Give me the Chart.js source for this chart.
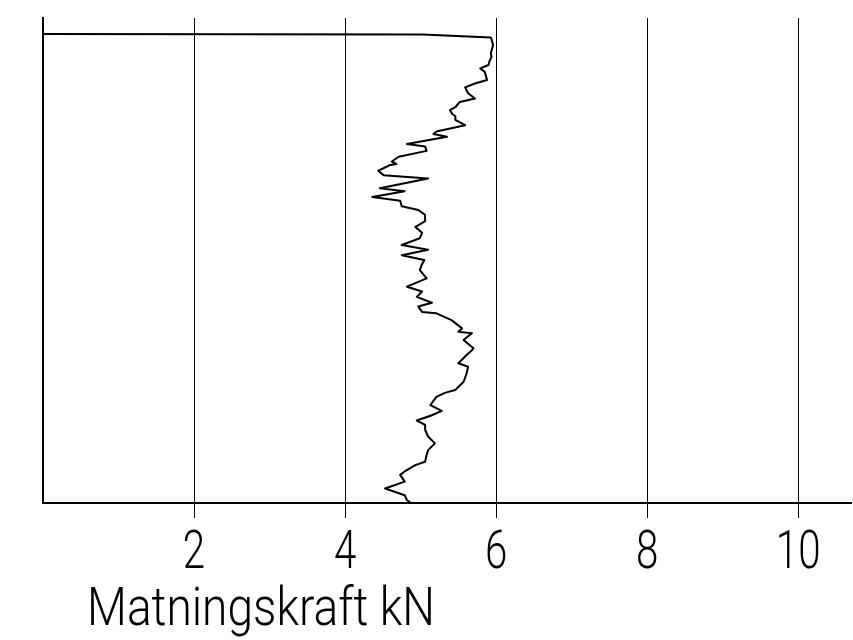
<!DOCTYPE html>
<html>
<head>
<meta charset="utf-8">
<script src="https://cdn.jsdelivr.net/npm/chart.js@4/dist/chart.umd.min.js"></script>
<style>
  html, body { margin: 0; padding: 0; background: #fff; }
  #wrap { width: 853px; height: 640px; }
</style>
</head>
<body>
<div id="wrap"><canvas id="c" width="853" height="640"></canvas></div>
<script>
// Feed force (kN) versus depth (m, downward)
const forceKN = [0, 5.03, 5.93, 5.94, 5.96, 5.93, 5.94, 5.91, 5.90, 5.79, 5.85, 5.88, 5.72, 5.59, 5.63, 5.72, 5.52, 5.46, 5.39, 5.42,
  5.46, 5.46, 5.59, 5.21, 5.17, 5.35, 4.82, 5.06, 5.08, 4.71, 4.62, 4.68, 4.60, 4.44, 4.51, 5.10, 4.46, 4.79, 4.36, 4.73,
  4.75, 4.97, 5.06, 5.06, 4.93, 5.02, 4.99, 4.75, 5.10, 4.75, 5.05, 5.01, 4.99, 5.08, 4.82, 5.02, 4.95, 5.15, 4.97, 5.02,
  5.21, 5.41, 5.55, 5.50, 5.68, 5.57, 5.70, 5.68, 5.61, 5.50, 5.63, 5.61, 5.57, 5.46, 5.32, 5.21, 5.13, 5.28, 5.15, 4.95,
  5.06, 5.06, 5.10, 5.19, 5.10, 5.08, 5.06, 4.93, 4.79, 4.73, 4.79, 4.53, 4.79, 4.82, 4.86];
const depthM = [0.33, 0.34, 0.40, 0.44, 0.56, 0.73, 0.80, 0.90, 0.97, 1.04, 1.11, 1.28, 1.35, 1.43, 1.55, 1.66, 1.73, 1.84, 1.90, 1.98,
  2.02, 2.10, 2.21, 2.34, 2.39, 2.45, 2.60, 2.65, 2.74, 2.86, 2.96, 3.01, 3.03, 3.15, 3.24, 3.31, 3.51, 3.57, 3.69, 3.77,
  3.88, 3.96, 4.06, 4.19, 4.31, 4.43, 4.54, 4.68, 4.78, 4.89, 4.99, 5.11, 5.20, 5.37, 5.54, 5.64, 5.75, 5.87, 5.95, 6.06,
  6.09, 6.23, 6.40, 6.47, 6.50, 6.64, 6.81, 6.85, 6.95, 7.12, 7.19, 7.33, 7.50, 7.67, 7.73, 7.81, 7.98, 8.10, 8.19, 8.30,
  8.39, 8.49, 8.63, 8.77, 8.91, 9.01, 9.15, 9.22, 9.35, 9.42, 9.56, 9.70, 9.84, 9.94, 9.99];
const xTickValues = [2, 4, 6, 8, 10];
const xTickLabels = ['2', '4', '6', '8', '10'];
const axisTitle = 'Matningskraft kN';

const FONT = "Roboto, 'Liberation Sans', sans-serif";

const points = forceKN.map((f, i) => ({ x: f, y: depthM[i] }));

// Narrow, thin CAD-like labels: drawn at the x scale's own tick positions
const labelPlugin = {
  id: 'cadLabels',
  afterDraw(chart) {
    const ctx = chart.ctx;
    const xs = chart.scales.x;
    ctx.save();
    ctx.fillStyle = '#000';
    ctx.font = '300 53px ' + FONT;
    ctx.textBaseline = 'alphabetic';
    ctx.textAlign = 'center';
    xTickValues.forEach((v, i) => {
      const px = xs.getPixelForValue(v);
      ctx.save();
      ctx.translate(px, 568);
      ctx.scale(0.76, 1);
      ctx.fillText(xTickLabels[i], 0, 0);
      ctx.restore();
    });
    // axis title
    ctx.textAlign = 'left';
    const w = ctx.measureText(axisTitle).width;
    ctx.translate(chart.chartArea.left + 44, 625);
    ctx.scale(348 / w, 1);
    ctx.fillText(axisTitle, 0, 0);
    ctx.restore();
  }
};

new Chart(document.getElementById('c'), {
  type: 'line',
  data: {
    datasets: [{
      data: points,
      borderColor: '#000',
      borderWidth: 2,
      pointRadius: 0,
      tension: 0,
      borderJoinStyle: 'round',
      borderCapStyle: 'round',
      fill: false
    }]
  },
  options: {
    responsive: false,
    animation: false,
    layout: { padding: { top: 18, right: 2, left: 0, bottom: 0 } },
    plugins: { legend: { display: false }, tooltip: { enabled: false } },
    scales: {
      x: {
        type: 'linear',
        min: 0,
        max: 10.7,
        afterBuildTicks(scale) { scale.ticks = xTickValues.map(v => ({ value: v })); },
        afterFit(scale) { scale.height = 137; },
        grid: { color: '#000', lineWidth: 1, tickLength: 15, drawOnChartArea: true },
        border: { color: '#000', width: 2 },
        ticks: { display: false }
      },
      y: {
        type: 'linear',
        reverse: true,
        min: 0,
        max: 10,
        afterFit(scale) { scale.width = 43; },
        grid: { display: false },
        border: { color: '#000', width: 2 },
        ticks: { display: false }
      }
    }
  },
  plugins: [labelPlugin]
});
</script>
</body>
</html>
